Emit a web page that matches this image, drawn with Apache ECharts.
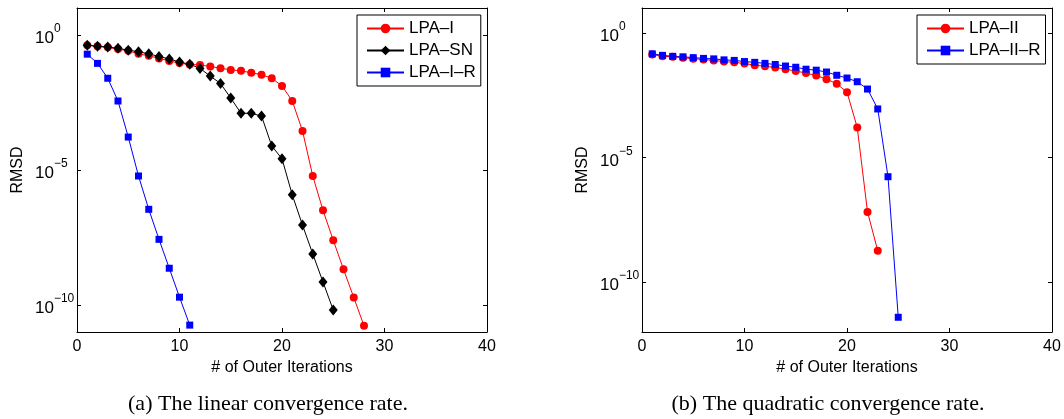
<!DOCTYPE html>
<html><head><meta charset="utf-8">
<script src="https://cdn.jsdelivr.net/npm/echarts@6/dist/echarts.min.js"></script>
<style>html,body{margin:0;padding:0;background:#fff}#c{width:1064px;height:419px}</style>
</head><body><div id="c"></div><script>
// ---- data (RMSD per outer iteration) ----
const iterLpaI = [1,2,3,4,5,6,7,8,9,10,11,12,13,14,15,16,17,18,19,20,21,22,23,24,25,26,27,28];
const rmsdLpaI = [4.2e-1,3.8e-1,3.5e-1,3.0e-1,2.6e-1,2.0e-1,1.7e-1,1.35e-1,1.1e-1,9.1e-2,8.1e-2,7.8e-2,6.8e-2,5.9e-2,5.1e-2,4.7e-2,4.0e-2,3.4e-2,2.5e-2,1.3e-2,3.6e-3,2.8e-4,6.0e-6,3.2e-7,2.5e-8,2.1e-9,1.9e-10,1.7e-11];
const iterLpaSN = [1,2,3,4,5,6,7,8,9,10,11,12,13,14,15,16,17,18,19,20,21,22,23,24,25];
const rmsdLpaSN = [4.2e-1,3.8e-1,3.6e-1,3.2e-1,2.75e-1,2.4e-1,2.0e-1,1.6e-1,1.3e-1,1.0e-1,8.3e-2,5.8e-2,3.0e-2,1.6e-2,4.6e-3,1.26e-3,1.26e-3,1.0e-3,7.8e-5,2.6e-5,1.2e-6,9.1e-8,7.8e-9,7.1e-10,6.5e-11];
const iterLpaIR = [1,2,3,4,5,6,7,8,9,10,11];
const rmsdLpaIR = [1.95e-1,8.9e-2,2.5e-2,3.6e-3,1.66e-4,6.0e-6,3.5e-7,2.7e-8,2.3e-9,1.95e-10,1.8e-11];
const iterLpaII = [1,2,3,4,5,6,7,8,9,10,11,12,13,14,15,16,17,18,19,20,21,22,23];
const rmsdLpaII = [1.35e-1,1.15e-1,1.1e-1,1.0e-1,9.3e-2,8.5e-2,7.9e-2,7.1e-2,6.6e-2,5.9e-2,5.1e-2,4.6e-2,4.1e-2,3.5e-2,2.95e-2,2.45e-2,1.95e-2,1.4e-2,9.1e-3,4.2e-3,1.6e-4,6.6e-8,1.8e-9];
const iterLpaIIR = [1,2,3,4,5,6,7,8,9,10,11,12,13,14,15,16,17,18,19,20,21,22,23,24,25];
const rmsdLpaIIR = [1.45e-1,1.26e-1,1.15e-1,1.1e-1,1.02e-1,9.5e-2,9.1e-2,8.3e-2,7.9e-2,7.1e-2,6.6e-2,6.0e-2,5.4e-2,4.7e-2,4.2e-2,3.5e-2,3.2e-2,2.7e-2,2.0e-2,1.55e-2,1.1e-2,5.6e-3,8.9e-4,1.7e-6,3.9e-12];
const namesA = ['LPA\u2013I','LPA\u2013SN','LPA\u2013I\u2013R'];
const namesB = ['LPA\u2013II','LPA\u2013II\u2013R'];
const xTicks = [0,10,20,30,40];
const yTickExps = [-10,-5,0];
const xName = '# of Outer Iterations';
const yName = 'RMSD';
const captions = ['(a) The linear convergence rate.','(b) The quadratic convergence rate.'];

const FONT = 'Liberation Sans, Arial, Helvetica, sans-serif';
const toPts = (xs, ys) => xs.map((x, i) => [x, Math.log10(ys[i])]);
const supLabel = v => {
  const e = Math.round(v);
  const s = e === 0 ? '0' : '\u2212' + Math.abs(e);
  return '{b|10}{s|' + s + '}';
};
const rich = {
  b: {fontSize: 17, fontFamily: FONT, color: '#000', lineHeight: 24, verticalAlign: 'bottom'},
  s: {fontSize: 12, fontFamily: FONT, color: '#000', verticalAlign: 'top'}
};

function xAxes(gi) {
  const base = {gridIndex: gi, type: 'value', min: xTicks[0], max: xTicks[xTicks.length-1], interval: 10,
    splitLine: {show: false}, axisLine: {show: true, onZero: false, lineStyle: {color: '#000', width: 1}},
    axisTick: {show: true, inside: true, length: 4, lineStyle: {color: '#000'}}};
  return [
    Object.assign({}, base, {position: 'bottom', name: xName, nameLocation: 'middle', nameGap: 25,
      nameTextStyle: {fontFamily: FONT, fontSize: 16, color: '#000'},
      axisLabel: {show: true, margin: 7, fontFamily: FONT, fontSize: 16, color: '#000'}}),
    Object.assign({}, base, {position: 'top', axisLabel: {show: false}})
  ];
}
function yAxes(gi, mn, mx) {
  const base = {gridIndex: gi, type: 'value', min: mn, max: mx, interval: 1,
    splitLine: {show: false}, axisLine: {show: true, onZero: false, lineStyle: {color: '#000', width: 1}},
    axisTick: {show: true, inside: true, length: 4, customValues: yTickExps, lineStyle: {color: '#000'}}};
  return [
    Object.assign({}, base, {position: 'left', name: yName, nameLocation: 'middle', nameGap: 51,
      nameTextStyle: {fontFamily: FONT, fontSize: 16, color: '#000'},
      axisLabel: {show: true, customValues: yTickExps, align: 'left', margin: 42, formatter: supLabel, rich: rich}}),
    Object.assign({}, base, {position: 'right', axisLabel: {show: false}})
  ];
}

function lineSeries(name, xi, yi, pts, color, symbol, size) {
  return {type: 'line', name: name, xAxisIndex: xi, yAxisIndex: yi, data: pts,
    symbol: symbol, symbolSize: size, showSymbol: true,
    lineStyle: {color: color, width: 1}, itemStyle: {color: color, borderWidth: 0},
    emphasis: {disabled: true}, animation: false};
}

const legendBase = {orient: 'vertical', borderColor: '#000', borderWidth: 1, backgroundColor: '#fff',
  itemWidth: 37, itemHeight: 12, itemGap: 5, padding: [5, 5, 5, 9],
  textStyle: {fontFamily: FONT, fontSize: 17, color: '#000', lineHeight: 16}, selectedMode: false};

const chart = echarts.init(document.getElementById('c'), null, {renderer: 'canvas'});
chart.setOption({
  animation: false,
  backgroundColor: '#fff',
  grid: [
    {left: 77, right: 577, top: 8, bottom: 87, containLabel: false},
    {left: 642, right: 12, top: 8, bottom: 87, containLabel: false}
  ],
  xAxis: [...xAxes(0), ...xAxes(1)],
  yAxis: [...yAxes(0, -11, 1), ...yAxes(1, -12, 1)],
  legend: [
    Object.assign({}, legendBase, {left: 357, top: 15, data: namesA}),
    Object.assign({}, legendBase, {left: 917, top: 15, data: namesB})
  ],
  series: [
    lineSeries(namesA[0], 0, 0, toPts(iterLpaI, rmsdLpaI), '#ff0000', 'circle', 8),
    lineSeries(namesA[1], 0, 0, toPts(iterLpaSN, rmsdLpaSN), '#000000', 'diamond', [9, 11]),
    lineSeries(namesA[2], 0, 0, toPts(iterLpaIR, rmsdLpaIR), '#0000ff', 'rect', 7),
    lineSeries(namesB[0], 2, 2, toPts(iterLpaII, rmsdLpaII), '#ff0000', 'circle', 8),
    lineSeries(namesB[1], 2, 2, toPts(iterLpaIIR, rmsdLpaIIR), '#0000ff', 'rect', 7)
  ],
  graphic: [
    {type: 'text', x: 268, y: 404, style: {text: captions[0], font: '22px "Liberation Serif", serif', fill: '#000', textAlign: 'center', textVerticalAlign: 'middle'}},
    {type: 'text', x: 828, y: 404, style: {text: captions[1], font: '22px "Liberation Serif", serif', fill: '#000', textAlign: 'center', textVerticalAlign: 'middle'}}
  ]
});
</script></body></html>
